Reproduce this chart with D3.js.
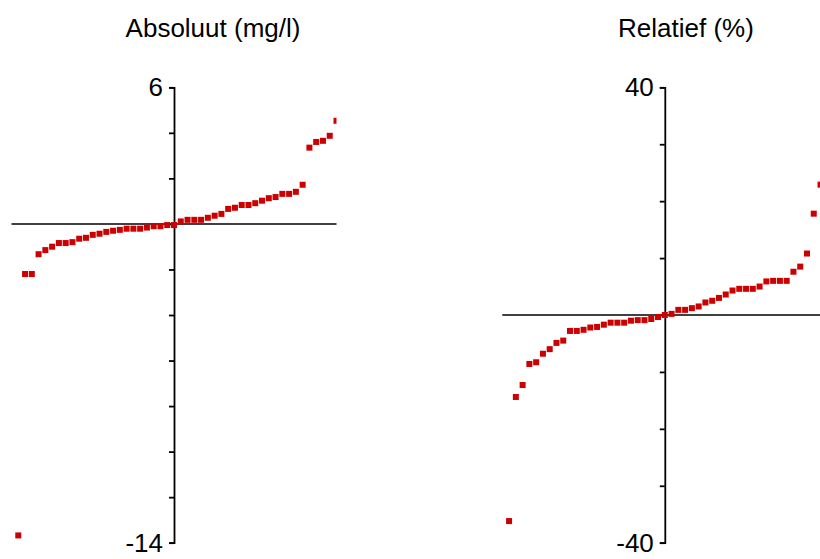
<!DOCTYPE html>
<html>
<head>
<meta charset="utf-8">
<script src="https://cdn.jsdelivr.net/npm/d3@7"></script>
<style>
  html, body { margin: 0; padding: 0; background: #fff; }
  svg { display: block; font-family: "Liberation Sans", Arial, sans-serif; }
</style>
</head>
<body>
<svg id="chart" width="820" height="559"></svg>
<script>
// ---- Data (sorted values) ----
const absTitle = "Absoluut (mg/l)";
const relTitle = "Relatief (%)";

const absValues = [
  -13.68, -2.2, -2.2, -1.33, -1.15, -1.0, -0.84, -0.84, -0.80, -0.65,
  -0.61, -0.48, -0.43, -0.35, -0.30, -0.26, -0.21, -0.21, -0.21, -0.16,
  -0.10, -0.10, -0.05, -0.05, 0.11, 0.18, 0.18, 0.18, 0.27, 0.36,
  0.44, 0.66, 0.71, 0.83, 0.83, 0.91, 1.02, 1.13, 1.18, 1.32,
  1.32, 1.41, 1.72, 3.35, 3.60, 3.65, 3.87, 4.53
];

const relValues = [
  -36.2, -14.4, -12.3, -8.6, -8.3, -6.8, -6.0, -4.9, -4.5, -2.8,
  -2.8, -2.6, -2.2, -2.1, -1.7, -1.35, -1.35, -1.35, -1.0, -0.9,
  -0.9, -0.7, -0.35, 0.0, 0.2, 0.9, 0.9, 1.2, 1.5, 2.2,
  2.5, 3.0, 3.6, 4.3, 4.6, 4.6, 4.6, 5.0, 5.9, 6.0,
  6.0, 6.0, 7.6, 8.5, 10.8, 17.8, 22.9
];

const absTicks = [-14, -12, -10, -8, -6, -4, -2, 0, 2, 4, 6];
const relTicks = [-40, -30, -20, -10, 0, 10, 20, 30, 40];
const absLabels = [-14, 6];
const relLabels = [-40, 40];
const rankCount = 48;

// ---- Drawing ----
const svg = d3.select("#chart");
const yTop = 87.3, yBottom = 542.7;
const red = "#cc0000";

function panel(opts) {
  const { id, title, titleX, values, domain, ticks, labels, x0, x1 } = opts;
  const x = d3.scaleLinear().domain([0, rankCount]).range([x0, x1]);
  const y = d3.scaleLinear().domain(domain).range([yBottom, yTop]);
  const g = svg.append("g");

  svg.append("clipPath").attr("id", "clip-" + id)
    .append("rect").attr("x", x0).attr("y", 0)
    .attr("width", x1 - x0).attr("height", 559);

  // title
  g.append("text")
    .attr("x", titleX).attr("y", 37)
    .attr("text-anchor", "middle")
    .attr("font-size", 26)
    .attr("fill", "#000")
    .text(title);

  // zero line
  g.append("line")
    .attr("x1", x0).attr("x2", x1)
    .attr("y1", y(0)).attr("y2", y(0))
    .attr("stroke", "#000").attr("stroke-width", 1.5);

  // vertical axis at middle rank
  const axisX = x(rankCount / 2);
  const axis = d3.axisLeft(y)
    .tickValues(ticks)
    .tickSize(5)
    .tickSizeOuter(5)
    .tickPadding(6)
    .tickFormat(d => labels.includes(d) ? String(d) : "");
  const ag = g.append("g")
    .attr("transform", `translate(${axisX},0)`)
    .call(axis);
  ag.selectAll("path, line").attr("stroke", "#000").attr("stroke-width", 1.8);
  ag.selectAll("text")
    .attr("font-size", 26)
    .attr("fill", "#000")
    .attr("font-family", '"Liberation Sans", Arial, sans-serif');

  // points
  const s = 6;
  g.append("g").attr("clip-path", `url(#clip-${id})`)
    .selectAll("rect")
    .data(values)
    .join("rect")
    .attr("x", (d, i) => x(i + 1) - s / 2)
    .attr("y", d => y(d) - s / 2)
    .attr("width", s).attr("height", s)
    .attr("fill", red);
}

panel({ id: "abs", title: absTitle, titleX: 213, values: absValues,
        domain: [-14, 6], ticks: absTicks, labels: absLabels, x0: 11.5, x1: 336.5 });
panel({ id: "rel", title: relTitle, titleX: 686, values: relValues,
        domain: [-40, 40], ticks: relTicks, labels: relLabels, x0: 502.3, x1: 827.3 });
</script>
</body>
</html>
